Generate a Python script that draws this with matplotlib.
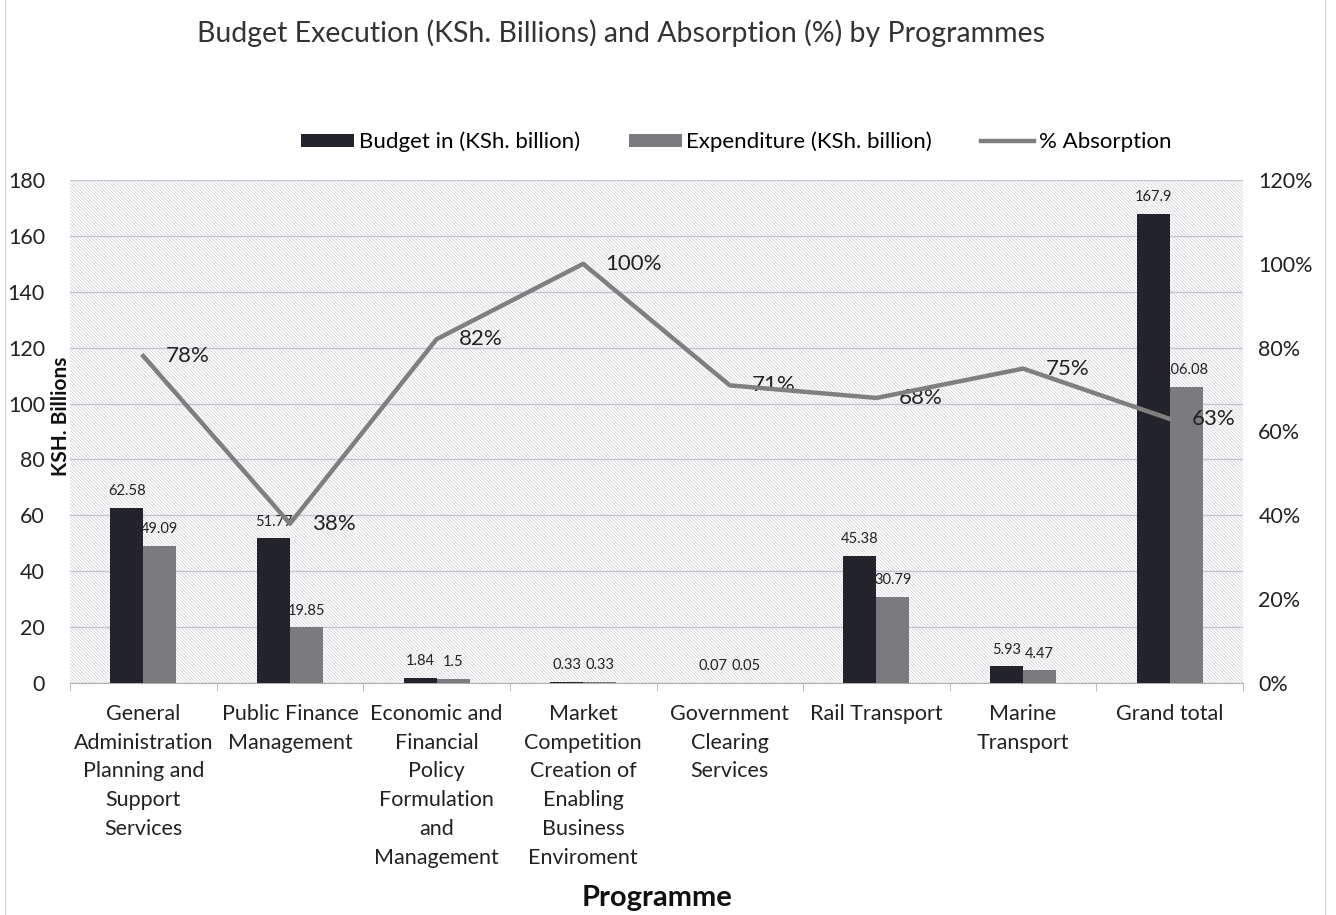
import numpy as np
import matplotlib
matplotlib.use("Agg")
import matplotlib.pyplot as plt
from matplotlib.lines import Line2D

plt.rcParams['font.family'] = ['Lato', 'DejaVu Sans']
plt.rcParams['hatch.linewidth'] = 0.5

# data
programmes = [
    "General\nAdministration\nPlanning and\nSupport\nServices",
    "Public Finance\nManagement",
    "Economic and\nFinancial\nPolicy\nFormulation\nand\nManagement",
    "Market\nCompetition\nCreation of\nEnabling\nBusiness\nEnviroment",
    "Government\nClearing\nServices",
    "Rail Transport",
    "Marine\nTransport",
    "Grand total",
]
budget = [62.58, 51.77, 1.84, 0.33, 0.07, 45.38, 5.93, 167.9]
expenditure = [49.09, 19.85, 1.5, 0.33, 0.05, 30.79, 4.47, 106.08]
absorption = [78, 38, 82, 100, 71, 68, 75, 63]

fig = plt.figure(figsize=(13.36, 9.15), dpi=100)
ax = fig.add_axes([0.0524, 0.2536, 0.8780, 0.5497])
ax2 = ax.twinx()

# faint chart border on the sides
for xb in (5 / 1336, 1325 / 1336):
    fig.add_artist(Line2D([xb, xb], [0, 1], transform=fig.transFigure, color='#d9d9d9', lw=1))

# hatched background
ax.patch.set_facecolor('white')
ax.patch.set_hatch('\\' * 10)
ax.patch.set_edgecolor('#cdcdd5')

x = np.arange(len(programmes))
w = 0.225
b1 = ax.bar(x - w / 2, budget, w, color='#23232b', label='Budget in (KSh. billion)', zorder=3)
b2 = ax.bar(x + w / 2, expenditure, w, color='#7b7b7f', label='Expenditure (KSh. billion)', zorder=3)
ax.bar_label(b1, labels=[f"{v:g}" for v in budget], padding=7, fontsize=10.5, color='#222222')
ax.bar_label(b2, labels=[f"{v:g}" for v in expenditure], padding=7, fontsize=10.5, color='#222222')

ln, = ax2.plot(x, absorption, color='#7f7f7f', lw=3.2, label='% Absorption', zorder=4)
for xi, a in zip(x, absorption):
    ax2.annotate(f"{a}%", (xi, a), xytext=(16, 0), textcoords='offset points',
                 ha='left', va='center', fontsize=16, color='#222222')

ax.set_xlim(-0.5, len(programmes) - 0.5)
ax.set_ylim(0, 180)
ax.set_yticks(range(0, 181, 20))
ax2.set_ylim(0, 120)
ax2.set_yticks(range(0, 121, 20))
ax2.set_yticklabels([f"{v}%" for v in range(0, 121, 20)])

ax.grid(axis='y', color='#c4c4d0', lw=1.0, zorder=0)
ax.set_axisbelow(True)
for a in (ax, ax2):
    for s in a.spines.values():
        s.set_visible(False)
ax.spines['bottom'].set_visible(True)
ax.spines['bottom'].set_color('#b0b0b0')

ax.set_xticks(x)
ax.set_xticklabels(programmes, fontsize=15.5, linespacing=1.55, color='#222222')
ax.set_xticks(np.arange(-0.5, len(programmes), 1), minor=True)
ax.tick_params(axis='x', which='major', length=0, pad=15)
ax.tick_params(axis='x', which='minor', length=6, color='#b0b0b0')
ax.tick_params(axis='y', length=0, labelsize=15.5, labelcolor='#222222', pad=18)
ax2.tick_params(axis='y', length=0, labelsize=15.5, labelcolor='#222222', pad=11)

fig.text(61 / 1336, 0.545, "KSH. Billions", rotation=90, ha='center', va='center',
         fontsize=15, fontweight='bold', color='#111111')
fig.text(0.492, 0.0186, "Programme", ha='center', va='center',
         fontsize=21, fontweight='bold', color='#111111')

fig.suptitle("Budget Execution (KSh. Billions) and Absorption (%) by Programmes",
             x=0.465, y=0.964, va='center', fontsize=20.5, color='#333333')

fig.legend(handles=[b1, b2, ln], loc='center', bbox_to_anchor=(0.551, 0.845), ncol=3,
           frameon=False, fontsize=16, handlelength=2.4, handleheight=0.5,
           columnspacing=2.2, handletextpad=0.2)

fig.savefig("out.png", dpi=100)
